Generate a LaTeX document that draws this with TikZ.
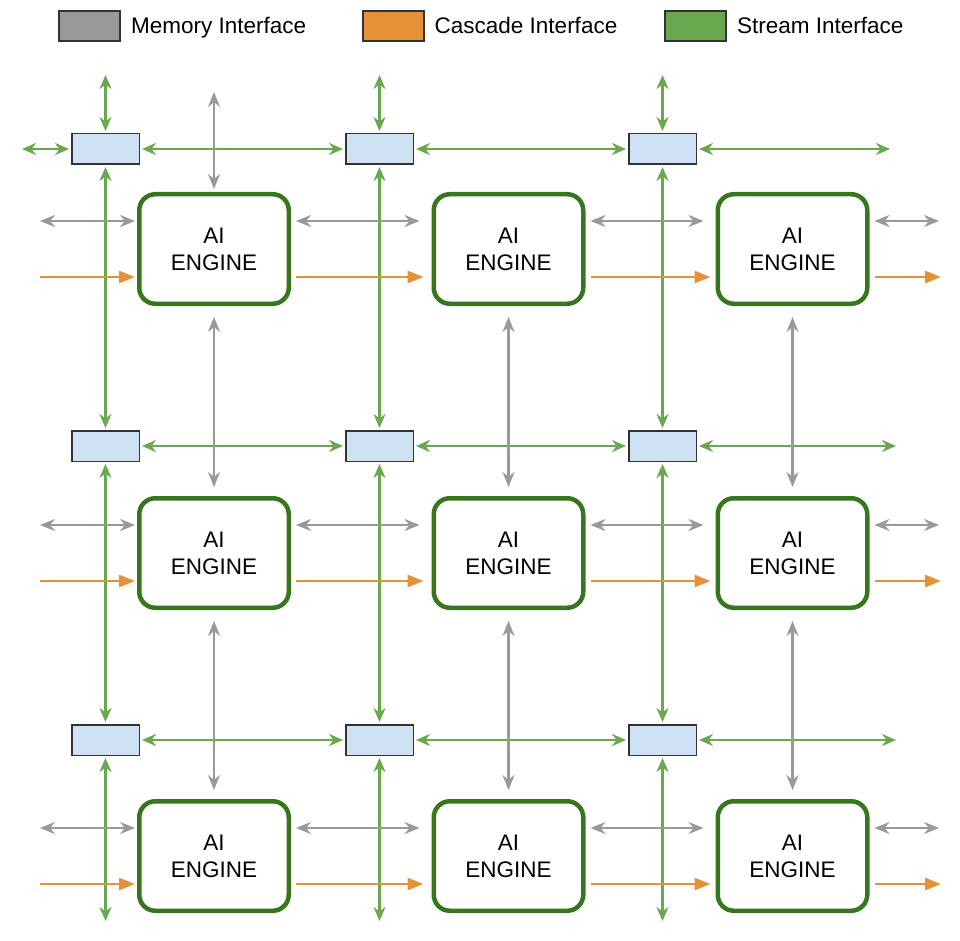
\documentclass[tikz,border=0pt]{standalone}
\usepackage{fontspec}
\setmainfont{Liberation Sans}
\usetikzlibrary{arrows.meta, positioning}
\definecolor{memgray}{HTML}{999999}
\definecolor{cascorange}{HTML}{E69138}
\definecolor{streamgreen}{HTML}{6AA84F}
\definecolor{enginegreen}{HTML}{38761D}
\definecolor{switchfill}{HTML}{CFE2F3}
\definecolor{edgegray}{HTML}{333333}

\begin{document}
\begin{tikzpicture}[x=1pt, y=-1pt, every node/.style={font=\fontsize{22.5}{27}\selectfont}]

\tikzset{
  memline/.style={{Stealth[length=15pt, width=12pt, inset=5pt]}-{Stealth[length=15pt, width=12pt, inset=5pt]},
    memgray, line width=2.6pt, shorten <=5pt, shorten >=5pt},
  streamline/.style={{Stealth[length=14pt, width=12pt, inset=4.5pt]}-{Stealth[length=14pt, width=12pt, inset=4.5pt]},
    streamgreen, line width=2.6pt, shorten <=2pt, shorten >=2pt},
  casline/.style={-{Triangle[length=16pt, width=12pt]}, cascorange, line width=2.8pt,
    shorten <=5pt, shorten >=5pt},
  engine/.style={rectangle, rounded corners=16pt, draw=enginegreen, line width=4.5pt, fill=white,
    minimum width=149.5pt, minimum height=109.5pt, align=center, inner sep=0pt},
  switchbox/.style={rectangle, draw=edgegray, line width=1.5pt, fill=switchfill,
    minimum width=67.5pt, minimum height=30.5pt, inner sep=0pt},
  legendbox/.style={rectangle, draw=edgegray, line width=2pt,
    minimum width=61pt, minimum height=30pt, inner sep=0pt},
  legendtext/.style={right=10pt of #1, inner sep=0pt, text height=16pt, text depth=0pt},
}

\useasboundingbox (0,0) rectangle (960,941);

% ---- legend ----
\node[legendbox, fill=memgray]     (memkey) at (89.5,26) {};
\node[legendtext=memkey]           (memlab) {Memory Interface};
\node[legendbox, fill=cascorange]  (caskey) at (393,26) {};
\node[legendtext=caskey]           (caslab) {Cascade Interface};
\node[legendbox, fill=streamgreen] (strkey) at (695.5,26) {};
\node[legendtext=strkey]           (strlab) {Stream Interface};

% ---- AI engines and stream switches ----
\foreach \c/\x in {1/214,2/508.5,3/792.5}
  \foreach \r/\y in {1/249,2/553,3/856}
    \node[engine] (e\r\c) at (\x,\y) {AI\\ENGINE};
\foreach \c/\x in {1/105.5,2/379.5,3/662.5}
  \foreach \r/\y in {1/149,2/446,3/740}
    \node[switchbox] (s\r\c) at (\x,\y) {};

% ---- stream interface ----
\foreach \c/\x in {1/105.5,2/379.5,3/662.5}{
  \coordinate (stop\c) at (\x,73);
  \coordinate (sbot\c) at (\x,923);
  \draw[streamline] (stop\c) -- (s1\c);
  \draw[streamline] (s1\c) -- (s2\c);
  \draw[streamline] (s2\c) -- (s3\c);
  \draw[streamline] (s3\c) -- (sbot\c);
}
\foreach \r/\y/\xe in {1/149/892,2/446/898,3/740/898}{
  \coordinate (sright\r) at (\xe,\y);
  \draw[streamline] (s\r1) -- (s\r2);
  \draw[streamline] (s\r2) -- (s\r3);
  \draw[streamline] (s\r3) -- (sright\r);
}
\coordinate (sleft1) at (20,149);
\draw[streamline] (sleft1) -- (s11);

% ---- memory + cascade interface, horizontal ----
\foreach \r/\y in {1/249,2/553,3/856}{
  \coordinate (mleft\r) at (40,{\y-28});
  \coordinate (mright\r) at (939,{\y-28});
  \coordinate (cleft\r) at (40,{\y+28});
  \coordinate (cright\r) at (941,{\y+28});
  \draw[memline, shorten <=0pt, shorten >=2pt] (mleft\r) -- ([yshift=28pt]e\r1.west);
  \draw[memline, shorten >=12pt] ([yshift=28pt]e\r1.east) -- ([yshift=28pt]e\r2.west);
  \draw[memline, shorten >=12pt] ([yshift=28pt]e\r2.east) -- ([yshift=28pt]e\r3.west);
  \draw[memline, shorten >=0pt] ([yshift=28pt]e\r3.east) -- (mright\r);
  \draw[casline, shorten <=0pt, shorten >=2pt] (cleft\r) -- ([yshift=-28pt]e\r1.west);
  \draw[casline, shorten >=8pt] ([yshift=-28pt]e\r1.east) -- ([yshift=-28pt]e\r2.west);
  \draw[casline] ([yshift=-28pt]e\r2.east) -- ([yshift=-28pt]e\r3.west);
  \draw[casline, shorten >=0pt] ([yshift=-28pt]e\r3.east) -- (cright\r);
}

% ---- memory interface, vertical ----
\coordinate (mtop) at (214,92);
\draw[memline, shorten <=0pt, shorten >=3pt] (mtop) -- (e11);
\foreach \c in {1,2,3}{
  \draw[memline, shorten <=11pt, shorten >=9pt] (e1\c) -- (e2\c);
  \draw[memline, shorten <=11pt, shorten >=9pt] (e2\c) -- (e3\c);
}

\end{tikzpicture}
\end{document}
